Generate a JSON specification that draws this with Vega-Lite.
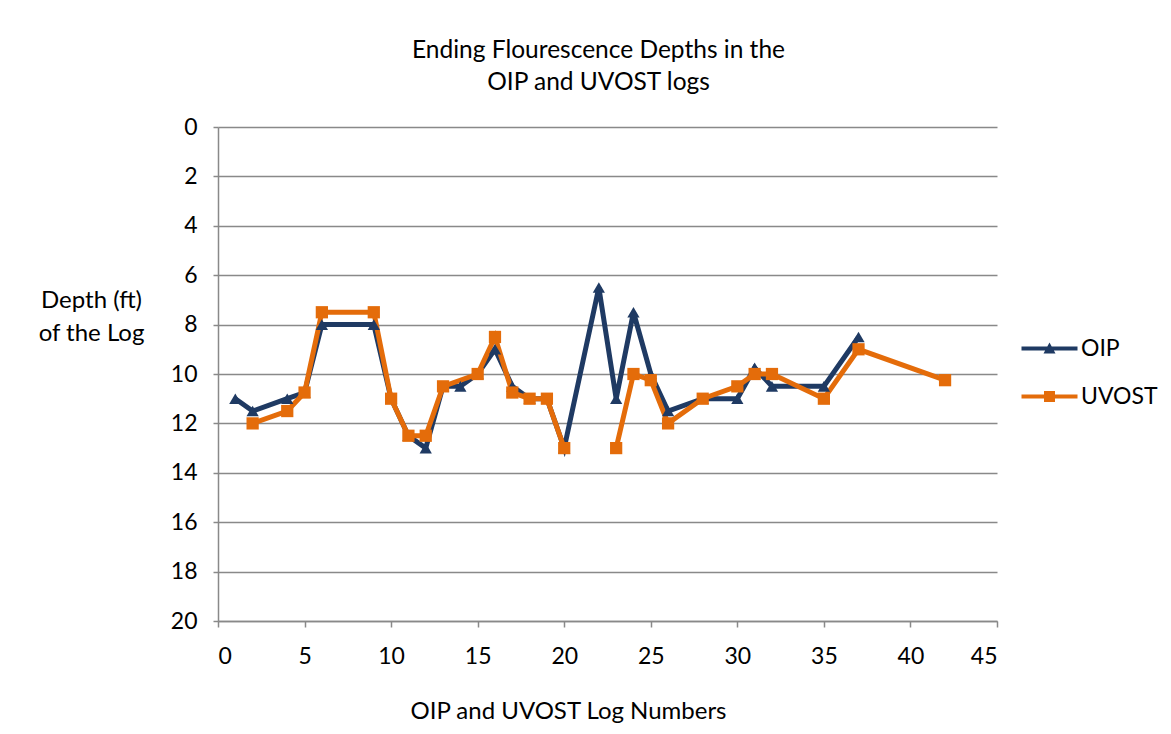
{
  "$schema": "https://vega.github.io/schema/vega-lite/v6.json",
  "width": 779,
  "height": 494,
  "autosize": "none",
  "padding": {"left": 218, "top": 127, "right": 174, "bottom": 113},
  "background": "white",
  "title": {
    "text": ["Ending Flourescence Depths in the", "OIP and UVOST logs"],
    "anchor": "middle",
    "dx": -9,
    "offset": 21,
    "fontSize": 24.5,
    "fontWeight": "normal",
    "font": "Lato",
    "color": "#000000",
    "lineHeight": 32
  },
  "config": {
    "view": {"stroke": null},
    "font": "Lato",
    "axis": {
      "labelFont": "Lato",
      "titleFont": "Lato",
      "labelColor": "#000000",
      "titleColor": "#000000",
      "labelFontSize": 23,
      "titleFontSize": 24,
      "titleFontWeight": "normal",
      "domainColor": "#898989",
      "tickColor": "#898989",
      "gridColor": "#898989",
      "domainWidth": 1.5,
      "tickWidth": 1.5,
      "gridWidth": 1.5
    }
  },
  "data": {
    "values": [
      {"series": "OIP", "log": 1, "depth": 11},
      {"series": "OIP", "log": 2, "depth": 11.5},
      {"series": "OIP", "log": 4, "depth": 11},
      {"series": "OIP", "log": 5, "depth": 10.75},
      {"series": "OIP", "log": 6, "depth": 8},
      {"series": "OIP", "log": 9, "depth": 8},
      {"series": "OIP", "log": 10, "depth": 11},
      {"series": "OIP", "log": 11, "depth": 12.5},
      {"series": "OIP", "log": 12, "depth": 13},
      {"series": "OIP", "log": 13, "depth": 10.5},
      {"series": "OIP", "log": 14, "depth": 10.5},
      {"series": "OIP", "log": 15, "depth": 10},
      {"series": "OIP", "log": 16, "depth": 9},
      {"series": "OIP", "log": 17, "depth": 10.5},
      {"series": "OIP", "log": 18, "depth": 11},
      {"series": "OIP", "log": 19, "depth": 11},
      {"series": "OIP", "log": 20, "depth": 13},
      {"series": "OIP", "log": 22, "depth": 6.5},
      {"series": "OIP", "log": 23, "depth": 11},
      {"series": "OIP", "log": 24, "depth": 7.5},
      {"series": "OIP", "log": 25, "depth": 10},
      {"series": "OIP", "log": 26, "depth": 11.5},
      {"series": "OIP", "log": 28, "depth": 11},
      {"series": "OIP", "log": 30, "depth": 11},
      {"series": "OIP", "log": 31, "depth": 9.75},
      {"series": "OIP", "log": 32, "depth": 10.5},
      {"series": "OIP", "log": 35, "depth": 10.5},
      {"series": "OIP", "log": 37, "depth": 8.5},
      {"series": "UVOST", "log": 2, "depth": 12},
      {"series": "UVOST", "log": 4, "depth": 11.5},
      {"series": "UVOST", "log": 5, "depth": 10.75},
      {"series": "UVOST", "log": 6, "depth": 7.5},
      {"series": "UVOST", "log": 9, "depth": 7.5},
      {"series": "UVOST", "log": 10, "depth": 11},
      {"series": "UVOST", "log": 11, "depth": 12.5},
      {"series": "UVOST", "log": 12, "depth": 12.5},
      {"series": "UVOST", "log": 13, "depth": 10.5},
      {"series": "UVOST", "log": 15, "depth": 10},
      {"series": "UVOST", "log": 16, "depth": 8.5},
      {"series": "UVOST", "log": 17, "depth": 10.75},
      {"series": "UVOST", "log": 18, "depth": 11},
      {"series": "UVOST", "log": 19, "depth": 11},
      {"series": "UVOST", "log": 20, "depth": 13},
      {"series": "UVOST", "log": 21, "depth": null},
      {"series": "UVOST", "log": 23, "depth": 13},
      {"series": "UVOST", "log": 24, "depth": 10},
      {"series": "UVOST", "log": 25, "depth": 10.25},
      {"series": "UVOST", "log": 26, "depth": 12},
      {"series": "UVOST", "log": 28, "depth": 11},
      {"series": "UVOST", "log": 30, "depth": 10.5},
      {"series": "UVOST", "log": 31, "depth": 10},
      {"series": "UVOST", "log": 32, "depth": 10},
      {"series": "UVOST", "log": 35, "depth": 11},
      {"series": "UVOST", "log": 37, "depth": 9},
      {"series": "UVOST", "log": 42, "depth": 10.25}
    ]
  },
  "encoding": {
    "x": {
      "field": "log",
      "type": "quantitative",
      "scale": {"domain": [0, 45], "nice": false},
      "axis": {
        "values": [0, 5, 10, 15, 20, 25, 30, 35, 40, 45],
        "grid": false,
        "tickSize": 6,
        "labelPadding": 18,
        "title": "OIP and UVOST Log Numbers",
        "titleX": 350,
        "titleY": 97,
        "titleBaseline": "alphabetic",
        "titleAnchor": null,
        "titleAlign": "center"
      }
    },
    "y": {
      "field": "depth",
      "type": "quantitative",
      "scale": {"domain": [0, 20], "reverse": true, "nice": false, "zero": false},
      "axis": {
        "values": [0, 2, 4, 6, 8, 10, 12, 14, 16, 18, 20],
        "grid": true,
        "tickSize": 5,
        "labelPadding": 16,
        "title": ["Depth (ft)", "of the Log"],
        "titleAngle": 0,
        "titleX": -127,
        "titleY": 161,
        "titleAlign": "center",
        "titleBaseline": "top",
        "titleLineHeight": 33
      }
    },
    "color": {
      "field": "series",
      "type": "nominal",
      "scale": {"domain": ["OIP", "UVOST"], "range": ["#1F3A63", "#E46C0A"]},
      "legend": {
        "title": null,
        "orient": "none",
        "legendX": 820,
        "legendY": 210,
        "labelFont": "Lato",
        "labelFontSize": 23,
        "labelColor": "#000000",
        "symbolSize": 400,
        "symbolStrokeWidth": 0,
        "labelOffset": 20,
        "rowPadding": 24,
        "encode": {
          "symbols": {
            "update": {
              "shape": {"signal": "datum.value === 'OIP' ? 'M-2.8,-0.2L2.8,-0.2L2.8,0.2L-2.8,0.2Z M-0.6,0.5L0,-0.6L0.6,0.5Z' : 'M-2.8,-0.2L2.8,-0.2L2.8,0.2L-2.8,0.2Z M-0.55,-0.55L0.55,-0.55L0.55,0.55L-0.55,0.55Z'"},
              "fill": {"signal": "datum.value === 'OIP' ? '#1F3A63' : '#E46C0A'"},
              "fillOpacity": {"value": 1},
              "strokeWidth": {"value": 0}
            }
          }
        }
      }
    }
  },
  "layer": [
    {
      "mark": {"type": "line", "strokeWidth": 5, "invalid": "break-paths-filter-domains"},
      "encoding": {}
    },
    {
      "transform": [{"filter": "datum.series === 'OIP'"}],
      "mark": {"type": "point", "filled": true, "size": 150, "opacity": 1, "shape": "triangle-up"},
      "encoding": {}
    },
    {
      "transform": [{"filter": "datum.series === 'UVOST'"}],
      "mark": {"type": "point", "filled": true, "size": 150, "opacity": 1, "shape": "square"},
      "encoding": {}
    }
  ]
}
